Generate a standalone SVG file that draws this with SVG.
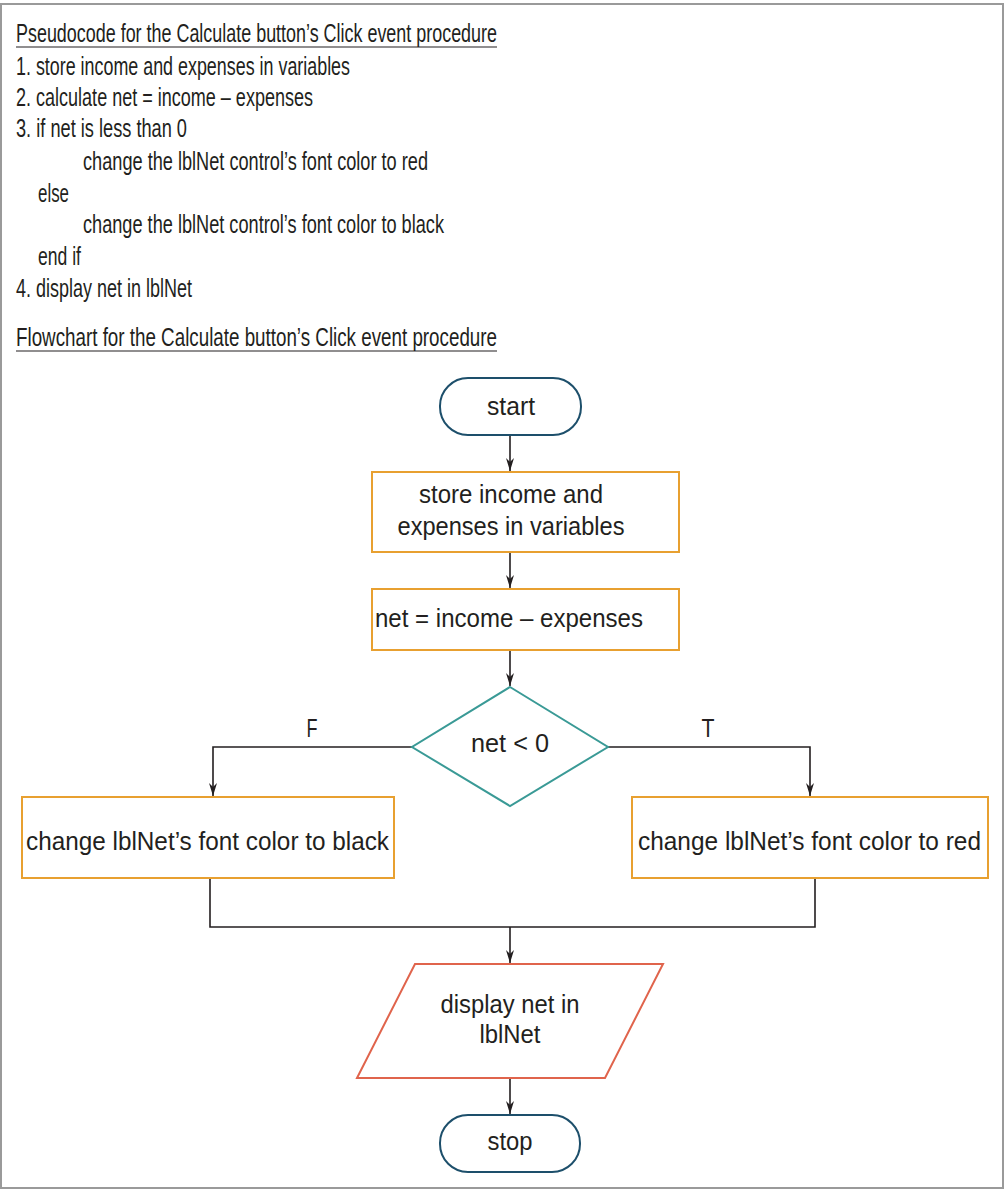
<svg xmlns="http://www.w3.org/2000/svg" width="1005" height="1189" viewBox="0 0 1005 1189">
<defs>
<style>
text{font-family:"Liberation Sans",Arial,sans-serif;font-size:26px;fill:#231f20}
.c{text-anchor:middle}
.proc{fill:#fff;stroke:#e8a030;stroke-width:2}
.term{fill:#fff;stroke:#1d4f6b;stroke-width:2}
.dec{fill:#fff;stroke:#3a9a96;stroke-width:2}
.io{fill:#fff;stroke:#e0644c;stroke-width:2}
.ln{fill:none;stroke:#231f20;stroke-width:1.6}
.ul{stroke:#231f20;stroke-width:1.2}
</style>
<marker id="ah" markerWidth="14" markerHeight="10" refX="13" refY="5" orient="auto" markerUnits="userSpaceOnUse" viewBox="0 0 14 10">
<path d="M0,1 L13,5 L0,9 L4,5 Z" fill="#231f20"/>
</marker>
</defs>
<rect x="1" y="4" width="1002" height="1184" fill="#fff" stroke="#9a9a9a" stroke-width="2"/>
<g id="pseudocode">
<text x="16" y="42" textLength="481" lengthAdjust="spacingAndGlyphs">Pseudocode for the Calculate button’s Click event procedure</text>
<line class="ul" x1="16" y1="47" x2="497" y2="47"/>
<text x="16" y="75" textLength="334" lengthAdjust="spacingAndGlyphs">1. store income and expenses in variables</text>
<text x="16" y="106" textLength="297" lengthAdjust="spacingAndGlyphs">2. calculate net = income – expenses</text>
<text x="16" y="137" textLength="171" lengthAdjust="spacingAndGlyphs">3. if net is less than 0</text>
<text x="83" y="170" textLength="345" lengthAdjust="spacingAndGlyphs">change the lblNet control’s font color to red</text>
<text x="38" y="202" textLength="31" lengthAdjust="spacingAndGlyphs">else</text>
<text x="83" y="233" textLength="361" lengthAdjust="spacingAndGlyphs">change the lblNet control’s font color to black</text>
<text x="38" y="265" textLength="43" lengthAdjust="spacingAndGlyphs">end if</text>
<text x="16" y="297" textLength="176" lengthAdjust="spacingAndGlyphs">4. display net in lblNet</text>
<text x="16" y="346" textLength="481" lengthAdjust="spacingAndGlyphs">Flowchart for the Calculate button’s Click event procedure</text>
<line class="ul" x1="16" y1="351" x2="497" y2="351"/>
</g>
<g id="connectors">
<line class="ln" x1="510" y1="435" x2="510" y2="471" marker-end="url(#ah)"/>
<line class="ln" x1="510" y1="552" x2="510" y2="588" marker-end="url(#ah)"/>
<line class="ln" x1="510" y1="650" x2="510" y2="686" marker-end="url(#ah)"/>
<polyline class="ln" points="412,747 213,747 213,796" marker-end="url(#ah)"/>
<polyline class="ln" points="608,747 810,747 810,796" marker-end="url(#ah)"/>
<polyline class="ln" points="210,878 210,927 815,927 815,878"/>
<line class="ln" x1="510" y1="927" x2="510" y2="963" marker-end="url(#ah)"/>
<line class="ln" x1="510" y1="1078" x2="510" y2="1114" marker-end="url(#ah)"/>
<text x="312" y="737" class="c" textLength="11" lengthAdjust="spacingAndGlyphs">F</text>
<text x="708" y="737" class="c" textLength="13" lengthAdjust="spacingAndGlyphs">T</text>
</g>
<g id="start">
<rect class="term" x="440" y="378" width="141" height="57" rx="28"/>
<text x="511" y="415" class="c" textLength="48" lengthAdjust="spacingAndGlyphs">start</text>
</g>
<g id="store">
<rect class="proc" x="372" y="472" width="307" height="80"/>
<text x="511" y="503" class="c" textLength="184" lengthAdjust="spacingAndGlyphs">store income and</text>
<text x="511" y="535" class="c" textLength="227" lengthAdjust="spacingAndGlyphs">expenses in variables</text>
</g>
<g id="calc">
<rect class="proc" x="372" y="589" width="307" height="61"/>
<text x="509" y="627" class="c" textLength="268" lengthAdjust="spacingAndGlyphs">net = income – expenses</text>
</g>
<g id="decision">
<polygon class="dec" points="510,687 608,747 510,806 412,747"/>
<text x="510" y="752" class="c" textLength="78" lengthAdjust="spacingAndGlyphs">net &lt; 0</text>
</g>
<g id="black">
<rect class="proc" x="22" y="797" width="372" height="81"/>
<text x="207.5" y="850" class="c" textLength="363" lengthAdjust="spacingAndGlyphs">change lblNet’s font color to black</text>
</g>
<g id="red">
<rect class="proc" x="632" y="797" width="356" height="81"/>
<text x="809.5" y="850" class="c" textLength="343" lengthAdjust="spacingAndGlyphs">change lblNet’s font color to red</text>
</g>
<g id="display">
<polygon class="io" points="415,964 663,964 605,1078 357,1078"/>
<text x="510" y="1013" class="c" textLength="139" lengthAdjust="spacingAndGlyphs">display net in</text>
<text x="510" y="1043" class="c" textLength="61" lengthAdjust="spacingAndGlyphs">lblNet</text>
</g>
<g id="stop">
<rect class="term" x="440" y="1115" width="140" height="57" rx="28"/>
<text x="510" y="1150" class="c" textLength="45" lengthAdjust="spacingAndGlyphs">stop</text>
</g>
</svg>
